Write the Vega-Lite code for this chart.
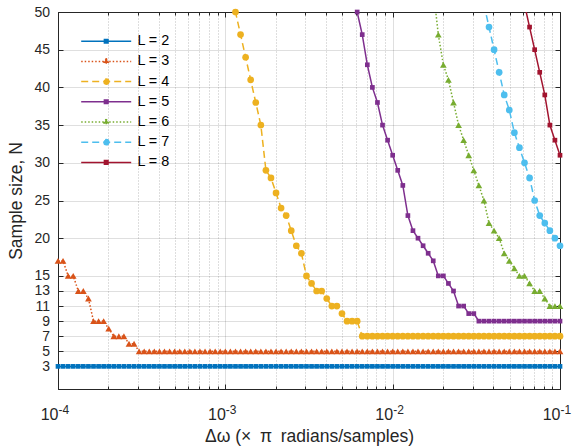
{
"$schema":"https://vega.github.io/schema/vega-lite/v6.json",
"width":502,"height":377,
"autosize":{"type":"none"},
"padding":{"left":58,"top":12,"right":16,"bottom":59},
"background":"white",
"config":{
"font":"Liberation Sans",
"view":{"stroke":"#262626","strokeWidth":1},
"axis":{"labelFont":"Liberation Sans","titleFont":"Liberation Sans","labelColor":"#262626","titleColor":"#262626","tickColor":"#262626","domainColor":"#262626","labelFontSize":16,"titleFontSize":17.5,"titleFontWeight":"normal","labelFlush":false,"labelOverlap":false,"gridColor":"#262626","gridOpacity":0.15,"gridWidth":1,"domainWidth":1,"tickWidth":1},
"legend":{"labelFont":"Liberation Sans","labelFontSize":14.4,"labelColor":"#000000"}
},
"data":{"values":[
{"L":2,"x":0.0001,"N":3},{"L":2,"x":0.0001072,"N":3},{"L":2,"x":0.000115,"N":3},{"L":2,"x":0.0001233,"N":3},{"L":2,"x":0.0001322,"N":3},{"L":2,"x":0.0001417,"N":3},{"L":2,"x":0.000152,"N":3},{"L":2,"x":0.000163,"N":3},{"L":2,"x":0.0001748,"N":3},{"L":2,"x":0.0001874,"N":3},
{"L":2,"x":0.0002009,"N":3},{"L":2,"x":0.0002154,"N":3},{"L":2,"x":0.000231,"N":3},{"L":2,"x":0.0002477,"N":3},{"L":2,"x":0.0002656,"N":3},{"L":2,"x":0.0002848,"N":3},{"L":2,"x":0.0003054,"N":3},{"L":2,"x":0.0003275,"N":3},{"L":2,"x":0.0003511,"N":3},{"L":2,"x":0.0003765,"N":3},
{"L":2,"x":0.0004037,"N":3},{"L":2,"x":0.0004329,"N":3},{"L":2,"x":0.0004642,"N":3},{"L":2,"x":0.0004977,"N":3},{"L":2,"x":0.0005337,"N":3},{"L":2,"x":0.0005722,"N":3},{"L":2,"x":0.0006136,"N":3},{"L":2,"x":0.0006579,"N":3},{"L":2,"x":0.0007055,"N":3},{"L":2,"x":0.0007565,"N":3},
{"L":2,"x":0.0008111,"N":3},{"L":2,"x":0.0008698,"N":3},{"L":2,"x":0.0009326,"N":3},{"L":2,"x":0.001,"N":3},{"L":2,"x":0.001072,"N":3},{"L":2,"x":0.00115,"N":3},{"L":2,"x":0.001233,"N":3},{"L":2,"x":0.001322,"N":3},{"L":2,"x":0.001417,"N":3},{"L":2,"x":0.00152,"N":3},
{"L":2,"x":0.00163,"N":3},{"L":2,"x":0.001748,"N":3},{"L":2,"x":0.001874,"N":3},{"L":2,"x":0.002009,"N":3},{"L":2,"x":0.002154,"N":3},{"L":2,"x":0.00231,"N":3},{"L":2,"x":0.002477,"N":3},{"L":2,"x":0.002656,"N":3},{"L":2,"x":0.002848,"N":3},{"L":2,"x":0.003054,"N":3},
{"L":2,"x":0.003275,"N":3},{"L":2,"x":0.003511,"N":3},{"L":2,"x":0.003765,"N":3},{"L":2,"x":0.004037,"N":3},{"L":2,"x":0.004329,"N":3},{"L":2,"x":0.004642,"N":3},{"L":2,"x":0.004977,"N":3},{"L":2,"x":0.005337,"N":3},{"L":2,"x":0.005722,"N":3},{"L":2,"x":0.006136,"N":3},
{"L":2,"x":0.006579,"N":3},{"L":2,"x":0.007055,"N":3},{"L":2,"x":0.007565,"N":3},{"L":2,"x":0.008111,"N":3},{"L":2,"x":0.008698,"N":3},{"L":2,"x":0.009326,"N":3},{"L":2,"x":0.01,"N":3},{"L":2,"x":0.01072,"N":3},{"L":2,"x":0.0115,"N":3},{"L":2,"x":0.01233,"N":3},
{"L":2,"x":0.01322,"N":3},{"L":2,"x":0.01417,"N":3},{"L":2,"x":0.0152,"N":3},{"L":2,"x":0.0163,"N":3},{"L":2,"x":0.01748,"N":3},{"L":2,"x":0.01874,"N":3},{"L":2,"x":0.02009,"N":3},{"L":2,"x":0.02154,"N":3},{"L":2,"x":0.0231,"N":3},{"L":2,"x":0.02477,"N":3},
{"L":2,"x":0.02656,"N":3},{"L":2,"x":0.02848,"N":3},{"L":2,"x":0.03054,"N":3},{"L":2,"x":0.03275,"N":3},{"L":2,"x":0.03511,"N":3},{"L":2,"x":0.03765,"N":3},{"L":2,"x":0.04037,"N":3},{"L":2,"x":0.04329,"N":3},{"L":2,"x":0.04642,"N":3},{"L":2,"x":0.04977,"N":3},
{"L":2,"x":0.05337,"N":3},{"L":2,"x":0.05722,"N":3},{"L":2,"x":0.06136,"N":3},{"L":2,"x":0.06579,"N":3},{"L":2,"x":0.07055,"N":3},{"L":2,"x":0.07565,"N":3},{"L":2,"x":0.08111,"N":3},{"L":2,"x":0.08698,"N":3},{"L":2,"x":0.09326,"N":3},{"L":2,"x":0.1,"N":3},
{"L":3,"x":0.0001,"N":17},{"L":3,"x":0.0001072,"N":17},{"L":3,"x":0.000115,"N":15},{"L":3,"x":0.0001233,"N":15},{"L":3,"x":0.0001322,"N":13},{"L":3,"x":0.0001417,"N":13},{"L":3,"x":0.000152,"N":12},{"L":3,"x":0.000163,"N":9},{"L":3,"x":0.0001748,"N":9},{"L":3,"x":0.0001874,"N":9},
{"L":3,"x":0.0002009,"N":8},{"L":3,"x":0.0002154,"N":7},{"L":3,"x":0.000231,"N":7},{"L":3,"x":0.0002477,"N":7},{"L":3,"x":0.0002656,"N":6},{"L":3,"x":0.0002848,"N":6},{"L":3,"x":0.0003054,"N":5},{"L":3,"x":0.0003275,"N":5},{"L":3,"x":0.0003511,"N":5},{"L":3,"x":0.0003765,"N":5},
{"L":3,"x":0.0004037,"N":5},{"L":3,"x":0.0004329,"N":5},{"L":3,"x":0.0004642,"N":5},{"L":3,"x":0.0004977,"N":5},{"L":3,"x":0.0005337,"N":5},{"L":3,"x":0.0005722,"N":5},{"L":3,"x":0.0006136,"N":5},{"L":3,"x":0.0006579,"N":5},{"L":3,"x":0.0007055,"N":5},{"L":3,"x":0.0007565,"N":5},
{"L":3,"x":0.0008111,"N":5},{"L":3,"x":0.0008698,"N":5},{"L":3,"x":0.0009326,"N":5},{"L":3,"x":0.001,"N":5},{"L":3,"x":0.001072,"N":5},{"L":3,"x":0.00115,"N":5},{"L":3,"x":0.001233,"N":5},{"L":3,"x":0.001322,"N":5},{"L":3,"x":0.001417,"N":5},{"L":3,"x":0.00152,"N":5},
{"L":3,"x":0.00163,"N":5},{"L":3,"x":0.001748,"N":5},{"L":3,"x":0.001874,"N":5},{"L":3,"x":0.002009,"N":5},{"L":3,"x":0.002154,"N":5},{"L":3,"x":0.00231,"N":5},{"L":3,"x":0.002477,"N":5},{"L":3,"x":0.002656,"N":5},{"L":3,"x":0.002848,"N":5},{"L":3,"x":0.003054,"N":5},
{"L":3,"x":0.003275,"N":5},{"L":3,"x":0.003511,"N":5},{"L":3,"x":0.003765,"N":5},{"L":3,"x":0.004037,"N":5},{"L":3,"x":0.004329,"N":5},{"L":3,"x":0.004642,"N":5},{"L":3,"x":0.004977,"N":5},{"L":3,"x":0.005337,"N":5},{"L":3,"x":0.005722,"N":5},{"L":3,"x":0.006136,"N":5},
{"L":3,"x":0.006579,"N":5},{"L":3,"x":0.007055,"N":5},{"L":3,"x":0.007565,"N":5},{"L":3,"x":0.008111,"N":5},{"L":3,"x":0.008698,"N":5},{"L":3,"x":0.009326,"N":5},{"L":3,"x":0.01,"N":5},{"L":3,"x":0.01072,"N":5},{"L":3,"x":0.0115,"N":5},{"L":3,"x":0.01233,"N":5},
{"L":3,"x":0.01322,"N":5},{"L":3,"x":0.01417,"N":5},{"L":3,"x":0.0152,"N":5},{"L":3,"x":0.0163,"N":5},{"L":3,"x":0.01748,"N":5},{"L":3,"x":0.01874,"N":5},{"L":3,"x":0.02009,"N":5},{"L":3,"x":0.02154,"N":5},{"L":3,"x":0.0231,"N":5},{"L":3,"x":0.02477,"N":5},
{"L":3,"x":0.02656,"N":5},{"L":3,"x":0.02848,"N":5},{"L":3,"x":0.03054,"N":5},{"L":3,"x":0.03275,"N":5},{"L":3,"x":0.03511,"N":5},{"L":3,"x":0.03765,"N":5},{"L":3,"x":0.04037,"N":5},{"L":3,"x":0.04329,"N":5},{"L":3,"x":0.04642,"N":5},{"L":3,"x":0.04977,"N":5},
{"L":3,"x":0.05337,"N":5},{"L":3,"x":0.05722,"N":5},{"L":3,"x":0.06136,"N":5},{"L":3,"x":0.06579,"N":5},{"L":3,"x":0.07055,"N":5},{"L":3,"x":0.07565,"N":5},{"L":3,"x":0.08111,"N":5},{"L":3,"x":0.08698,"N":5},{"L":3,"x":0.09326,"N":5},{"L":3,"x":0.1,"N":5},
{"L":4,"x":0.001072,"N":53},{"L":4,"x":0.00115,"N":50},{"L":4,"x":0.001233,"N":47},{"L":4,"x":0.001322,"N":44},{"L":4,"x":0.001417,"N":41},{"L":4,"x":0.00152,"N":38},
{"L":4,"x":0.00163,"N":35},{"L":4,"x":0.001748,"N":29},{"L":4,"x":0.001874,"N":28},{"L":4,"x":0.002009,"N":26},{"L":4,"x":0.002154,"N":24},{"L":4,"x":0.00231,"N":23},{"L":4,"x":0.002477,"N":21},{"L":4,"x":0.002656,"N":19},{"L":4,"x":0.002848,"N":18},{"L":4,"x":0.003054,"N":15},
{"L":4,"x":0.003275,"N":14},{"L":4,"x":0.003511,"N":13},{"L":4,"x":0.003765,"N":13},{"L":4,"x":0.004037,"N":12},{"L":4,"x":0.004329,"N":11},{"L":4,"x":0.004642,"N":11},{"L":4,"x":0.004977,"N":10},{"L":4,"x":0.005337,"N":9},{"L":4,"x":0.005722,"N":9},{"L":4,"x":0.006136,"N":9},
{"L":4,"x":0.006579,"N":7},{"L":4,"x":0.007055,"N":7},{"L":4,"x":0.007565,"N":7},{"L":4,"x":0.008111,"N":7},{"L":4,"x":0.008698,"N":7},{"L":4,"x":0.009326,"N":7},{"L":4,"x":0.01,"N":7},{"L":4,"x":0.01072,"N":7},{"L":4,"x":0.0115,"N":7},{"L":4,"x":0.01233,"N":7},
{"L":4,"x":0.01322,"N":7},{"L":4,"x":0.01417,"N":7},{"L":4,"x":0.0152,"N":7},{"L":4,"x":0.0163,"N":7},{"L":4,"x":0.01748,"N":7},{"L":4,"x":0.01874,"N":7},{"L":4,"x":0.02009,"N":7},{"L":4,"x":0.02154,"N":7},{"L":4,"x":0.0231,"N":7},{"L":4,"x":0.02477,"N":7},
{"L":4,"x":0.02656,"N":7},{"L":4,"x":0.02848,"N":7},{"L":4,"x":0.03054,"N":7},{"L":4,"x":0.03275,"N":7},{"L":4,"x":0.03511,"N":7},{"L":4,"x":0.03765,"N":7},{"L":4,"x":0.04037,"N":7},{"L":4,"x":0.04329,"N":7},{"L":4,"x":0.04642,"N":7},{"L":4,"x":0.04977,"N":7},
{"L":4,"x":0.05337,"N":7},{"L":4,"x":0.05722,"N":7},{"L":4,"x":0.06136,"N":7},{"L":4,"x":0.06579,"N":7},{"L":4,"x":0.07055,"N":7},{"L":4,"x":0.07565,"N":7},{"L":4,"x":0.08111,"N":7},{"L":4,"x":0.08698,"N":7},{"L":4,"x":0.09326,"N":7},{"L":4,"x":0.1,"N":7},
{"L":5,"x":0.005722,"N":54},{"L":5,"x":0.006136,"N":50},{"L":5,"x":0.006579,"N":47},{"L":5,"x":0.007055,"N":43},{"L":5,"x":0.007565,"N":40},{"L":5,"x":0.008111,"N":38},{"L":5,"x":0.008698,"N":35},{"L":5,"x":0.009326,"N":33},{"L":5,"x":0.01,"N":31},{"L":5,"x":0.01072,"N":29},
{"L":5,"x":0.0115,"N":27},{"L":5,"x":0.01233,"N":23},{"L":5,"x":0.01322,"N":21},{"L":5,"x":0.01417,"N":20},{"L":5,"x":0.0152,"N":19},{"L":5,"x":0.0163,"N":18},{"L":5,"x":0.01748,"N":17},{"L":5,"x":0.01874,"N":15},{"L":5,"x":0.02009,"N":15},{"L":5,"x":0.02154,"N":14},
{"L":5,"x":0.0231,"N":13},{"L":5,"x":0.02477,"N":11},{"L":5,"x":0.02656,"N":11},{"L":5,"x":0.02848,"N":10},{"L":5,"x":0.03054,"N":10},{"L":5,"x":0.03275,"N":9},{"L":5,"x":0.03511,"N":9},{"L":5,"x":0.03765,"N":9},{"L":5,"x":0.04037,"N":9},{"L":5,"x":0.04329,"N":9},
{"L":5,"x":0.04642,"N":9},{"L":5,"x":0.04977,"N":9},{"L":5,"x":0.05337,"N":9},{"L":5,"x":0.05722,"N":9},{"L":5,"x":0.06136,"N":9},{"L":5,"x":0.06579,"N":9},{"L":5,"x":0.07055,"N":9},{"L":5,"x":0.07565,"N":9},{"L":5,"x":0.08111,"N":9},{"L":5,"x":0.08698,"N":9},{"L":5,"x":0.09326,"N":9},{"L":5,"x":0.1,"N":9},
{"L":6,"x":0.01748,"N":53},{"L":6,"x":0.01874,"N":47},{"L":6,"x":0.02009,"N":43},{"L":6,"x":0.02154,"N":41},{"L":6,"x":0.0231,"N":38},{"L":6,"x":0.02477,"N":35},{"L":6,"x":0.02656,"N":33},{"L":6,"x":0.02848,"N":31},{"L":6,"x":0.03054,"N":29},{"L":6,"x":0.03275,"N":27},
{"L":6,"x":0.03511,"N":25},{"L":6,"x":0.03765,"N":22},{"L":6,"x":0.04037,"N":21},{"L":6,"x":0.04329,"N":20},{"L":6,"x":0.04642,"N":18},{"L":6,"x":0.04977,"N":17},{"L":6,"x":0.05337,"N":16},{"L":6,"x":0.05722,"N":15},{"L":6,"x":0.06136,"N":15},{"L":6,"x":0.06579,"N":14},
{"L":6,"x":0.07055,"N":13},{"L":6,"x":0.07565,"N":13},{"L":6,"x":0.08111,"N":12},{"L":6,"x":0.08698,"N":11},{"L":6,"x":0.09326,"N":11},{"L":6,"x":0.1,"N":11},
{"L":7,"x":0.03511,"N":51},{"L":7,"x":0.03765,"N":48},{"L":7,"x":0.04037,"N":45},{"L":7,"x":0.04329,"N":42},{"L":7,"x":0.04642,"N":39},{"L":7,"x":0.04977,"N":37},{"L":7,"x":0.05337,"N":34},{"L":7,"x":0.05722,"N":32},
{"L":7,"x":0.06136,"N":30},{"L":7,"x":0.06579,"N":28},{"L":7,"x":0.07055,"N":25},{"L":7,"x":0.07565,"N":23},{"L":7,"x":0.08111,"N":22},{"L":7,"x":0.08698,"N":21},{"L":7,"x":0.09326,"N":20},{"L":7,"x":0.1,"N":19},
{"L":8,"x":0.06136,"N":51},{"L":8,"x":0.06579,"N":48},{"L":8,"x":0.07055,"N":45},{"L":8,"x":0.07565,"N":42},{"L":8,"x":0.08111,"N":39},{"L":8,"x":0.08698,"N":35},{"L":8,"x":0.09326,"N":33},{"L":8,"x":0.1,"N":31}
]},
"layer":[
{
"transform":[{"filter":{"field":"L","oneOf":[2,5,8]}}],
"mark":{"type":"line","strokeWidth":1.5,"clip":true},
"encoding":{
"x":{"field":"x","type":"quantitative","scale":{"type":"log","domain":[0.0001,0.1]},
"axis":{"orient":"bottom","values":[0.0001,0.001,0.01,0.1],"labelExpr":"'10'","labelAlign":"right","labelDx":1.5,"labelPadding":22,"tickSize":-5,"grid":true,"title":"Δω (×\u2002π\u2002radians/samples)","titlePadding":5}},
"y":{"field":"N","type":"quantitative","scale":{"domain":[0,50],"nice":false,"zero":false},
"axis":{"orient":"left","values":[3,5,7,9,11,13,15,20,25,30,35,40,45,50],"labelFontSize":14,"tickSize":-5,"labelPadding":13.5,"grid":true,"title":"Sample size, N","titlePadding":8}},
"color":{"field":"L","type":"nominal","scale":{"domain":[2,3,4,5,6,7,8],"range":["#0072BD","#D95319","#EDB120","#7E2F8E","#77AC30","#4DBEEE","#A2142F"]},"legend":null}
}
},
{
"transform":[{"filter":{"field":"L","oneOf":[3,6]}}],
"mark":{"type":"line","strokeWidth":1.5,"clip":true,"strokeDash":[1.5,2]},
"encoding":{
"x":{"field":"x","type":"quantitative","axis":null},
"y":{"field":"N","type":"quantitative","axis":null},
"color":{"field":"L","type":"nominal","legend":null}
}
},
{
"transform":[{"filter":{"field":"L","oneOf":[4,7]}}],
"mark":{"type":"line","strokeWidth":1.5,"clip":true,"strokeDash":[7,4]},
"encoding":{
"x":{"field":"x","type":"quantitative","axis":null},
"y":{"field":"N","type":"quantitative","axis":null},
"color":{"field":"L","type":"nominal","legend":null}
}
},
{
"transform":[{"filter":{"field":"L","oneOf":[2,5,8]}},{"filter":"datum.N <= 50"}],
"mark":{"type":"point","filled":true,"opacity":1,"shape":"square","size":22},
"encoding":{
"x":{"field":"x","type":"quantitative",
"axis":{"orient":"bottom","values":[0.0002,0.0003,0.0004,0.0005,0.0006,0.0007,0.0008,0.0009,0.002,0.003,0.004,0.005,0.006,0.007,0.008,0.009,0.02,0.03,0.04,0.05,0.06,0.07,0.08,0.09],"labels":false,"domain":false,"tickSize":-3,"grid":true,"gridDash":[1,2],"gridOpacity":0.3,"title":null}},
"y":{"field":"N","type":"quantitative",
"axis":{"orient":"right","values":[3,5,7,9,11,13,15,20,25,30,35,40,45,50],"labels":false,"domain":false,"tickSize":-5,"grid":false,"title":null}},
"color":{"field":"L","type":"nominal","legend":null}
}
},
{
"transform":[{"filter":{"field":"L","oneOf":[3,6]}},{"filter":"datum.N <= 50"}],
"mark":{"type":"point","filled":true,"opacity":1,"shape":"triangle-up","size":45},
"encoding":{
"x":{"field":"x","type":"quantitative","axis":null},
"y":{"field":"N","type":"quantitative","axis":null},
"color":{"field":"L","type":"nominal","legend":null}
}
},
{
"transform":[{"filter":{"field":"L","oneOf":[4,7]}},{"filter":"datum.N <= 50"}],
"mark":{"type":"point","filled":true,"opacity":1,"shape":"circle","size":45},
"encoding":{
"x":{"field":"x","type":"quantitative","axis":null},
"y":{"field":"N","type":"quantitative","axis":null},
"color":{"field":"L","type":"nominal","legend":null}
}
},
{
"mark":{"type":"point","filled":true,"size":0,"strokeWidth":1.5},
"encoding":{
"x":{"field":"x","type":"quantitative",
"axis":{"orient":"bottom","values":[0.0001,0.001,0.01,0.1],"labelExpr":"datum.value < 0.0005 ? '-4' : datum.value < 0.005 ? '-3' : datum.value < 0.05 ? '-2' : '-1'","labelAlign":"left","labelDx":2.5,"labelFontSize":12,"labelPadding":15,"ticks":false,"domain":false,"grid":false,"title":null}},
"y":{"field":"N","type":"quantitative","axis":null},
"stroke":{"field":"L","type":"nominal","scale":{"range":["#0072BD","#D95319","#EDB120","#7E2F8E","#77AC30","#4DBEEE","#A2142F"]},
"legend":{"orient":"none","legendX":41,"legendY":22,"title":null,"symbolSize":4,"symbolStrokeWidth":1.5,"symbolOpacity":1,"labelOffset":24,"rowPadding":5.2,"padding":0,"labelExpr":"'L = ' + datum.label","labelFontSize":14.4}},
"fill":{"field":"L","type":"nominal","scale":{"range":["#0072BD","#D95319","#EDB120","#7E2F8E","#77AC30","#4DBEEE","#A2142F"]},
"legend":{"orient":"none","legendX":41,"legendY":22,"title":null,"symbolSize":4,"symbolStrokeWidth":1.5,"symbolOpacity":1,"labelOffset":24,"rowPadding":5.2,"padding":0,"labelExpr":"'L = ' + datum.label","labelFontSize":14.4}},
"shape":{"field":"L","type":"nominal","scale":{"range":["M-25,0H25M-1.8,-1.8H1.8V1.8H-1.8Z","M-25,0H25M0,-2.9L2.6,1.6L-2.6,1.6Z","M-25,0H25M2.6,0A2.6,2.6,0,1,1,-2.6,0A2.6,2.6,0,1,1,2.6,0Z","M-25,0H25M-1.8,-1.8H1.8V1.8H-1.8Z","M-25,0H25M0,-2.9L2.6,1.6L-2.6,1.6Z","M-25,0H25M2.6,0A2.6,2.6,0,1,1,-2.6,0A2.6,2.6,0,1,1,2.6,0Z","M-25,0H25M-1.8,-1.8H1.8V1.8H-1.8Z"]},
"legend":{"orient":"none","legendX":41,"legendY":22,"title":null,"symbolSize":4,"symbolStrokeWidth":1.5,"symbolOpacity":1,"labelOffset":24,"rowPadding":5.2,"padding":0,"labelExpr":"'L = ' + datum.label","labelFontSize":14.4}},
"strokeDash":{"field":"L","type":"nominal","scale":{"range":[[1,0],[1.5,2],[7,4],[1,0],[1.5,2],[7,4],[1,0]]},
"legend":{"orient":"none","legendX":41,"legendY":22,"title":null,"symbolSize":4,"symbolStrokeWidth":1.5,"symbolOpacity":1,"labelOffset":24,"rowPadding":5.2,"padding":0,"labelExpr":"'L = ' + datum.label","labelFontSize":14.4}}
}
},
{
"mark":{"type":"point","opacity":0},
"encoding":{
"x":{"field":"x","type":"quantitative",
"axis":{"orient":"top","values":[0.0001,0.001,0.01,0.1],"labels":false,"domain":false,"grid":false,"tickSize":-5,"title":null}},
"y":{"field":"N","type":"quantitative","axis":null}
}
},
{
"mark":{"type":"point","opacity":0},
"encoding":{
"x":{"field":"x","type":"quantitative",
"axis":{"orient":"top","values":[0.0002,0.0003,0.0004,0.0005,0.0006,0.0007,0.0008,0.0009,0.002,0.003,0.004,0.005,0.006,0.007,0.008,0.009,0.02,0.03,0.04,0.05,0.06,0.07,0.08,0.09],"labels":false,"domain":false,"grid":false,"tickSize":-3,"title":null}},
"y":{"field":"N","type":"quantitative","axis":null}
}
}
],
"resolve":{"axis":{"x":"independent","y":"independent"}}
}
